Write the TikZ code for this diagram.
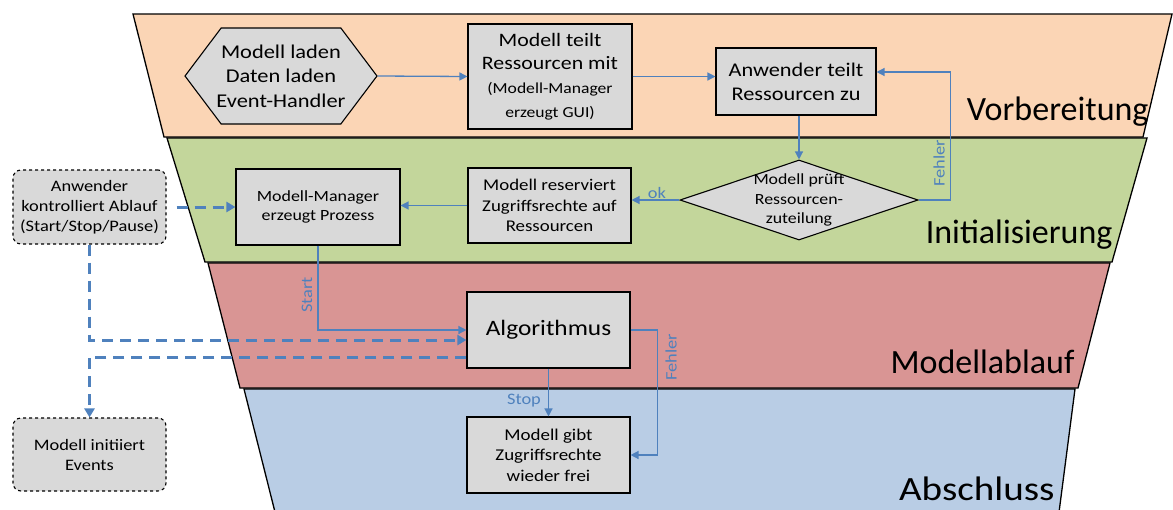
\documentclass[tikz,border=0pt]{standalone}
\usepackage{fontspec}
\setmainfont{Carlito}
\newfontfamily\wide[FakeStretch=1.15]{Carlito}
\usetikzlibrary{shapes.geometric,shapes.symbols,arrows.meta}
\definecolor{vorbcol}{HTML}{FBD5B5}
\definecolor{initcol}{HTML}{C3D69B}
\definecolor{laufcol}{HTML}{D99594}
\definecolor{schlcol}{HTML}{B9CDE5}
\definecolor{flowcol}{HTML}{4F81BD}
\definecolor{boxcol}{HTML}{D9D9D9}
\newcommand{\fs}[1]{\fontsize{#1}{1.25\dimexpr#1pt\relax}\selectfont}
\tikzset{
  band/.style={draw=black,line width=1.3pt},
  phase/.style={anchor=base east,font=\fs{34}},
  proc/.style={draw,fill=boxcol,line width=1.1pt,align=center,inner sep=2pt},
  ext/.style={proc,dashed,rounded corners=8pt},
  flow/.style={draw=flowcol,line width=1.3pt,-{Triangle[length=8pt,width=8pt]}},
  ctrl/.style={draw=flowcol,line width=3pt,dash pattern=on 11pt off 7pt,-{Triangle[length=9pt,width=10pt]}},
  tag/.style={text=flowcol,font=\wide\fs{16},inner sep=1pt}
}
\begin{document}
\begin{tikzpicture}[x=1pt,y=-1pt]
\useasboundingbox (0,0) rectangle (1173,509);
% phases
\filldraw[band,fill=vorbcol] (133,14)--(1172,14)--(1143,137)--(164,137)--cycle;
\filldraw[band,fill=initcol] (167,138)--(1147,138)--(1112,262)--(205,262)--cycle;
\filldraw[band,fill=laufcol] (208,263)--(1110,263)--(1078,388)--(240,388)--cycle;
\filldraw[band,fill=schlcol] (244,389)--(1075,389)--(1058,520)--(277,520)--cycle;
\node[phase] (vorb) at (1152,120) {Vorbereitung};
\node[phase] (init) at (1116,243) {Initialisierung};
\node[phase] (lauf) at (1078,373) {Modellablauf};
\node[phase,font=\wide\fs{34}] (schl) at (1058,500) {Abschluss};
% steps
\node[proc,signal,signal to=east and west,signal pointer angle=106,
  minimum width=192,minimum height=96,inner sep=0pt] (laden) at (281,76) {};
\node[align=center,font=\wide\fs{19.5}] (ladentext) at (laden)
  {Modell laden\\Daten laden\\Event-Handler};
\node[proc,minimum width=164,minimum height=105,font=\wide\fs{19}] (teilt) at (550,76.5)
  {Modell teilt\\Ressourcen mit\\{\fs{15.3}(Modell-Manager}\\{\fs{15.3}erzeugt GUI)}};
\node[proc,minimum width=160,minimum height=67,font=\wide\fs{19.4}] (zu) at (796,81.5)
  {Anwender teilt\\Ressourcen zu};
\node[proc,diamond,minimum width=238,minimum height=80] (pruef) at (799,200) {};
\node[align=center,font=\wide\fs{15.5}] (prueftext) at (pruef) {Modell prüft\\Ressourcen-\\zuteilung};
\node[proc,minimum width=163,minimum height=75,font=\wide\fs{16.4}] (reserv) at (549.5,205.5)
  {Modell reserviert\\Zugriffsrechte auf\\Ressourcen};
\node[proc,minimum width=164,minimum height=76,font=\wide\fs{15.6}] (prozess) at (318,207)
  {Modell-Manager\\erzeugt Prozess};
\node[proc,minimum width=163,minimum height=76,font=\wide\fs{22}] (alg) at (548.5,330)
  {Algorithmus};
\node[proc,minimum width=163,minimum height=76,font=\wide\fs{16.5}] (frei) at (548.5,455)
  {Modell gibt\\Zugriffsrechte\\wieder frei};
\node[ext,minimum width=153,minimum height=74,font=\wide\fs{16}] (anw) at (89.5,207)
  {Anwender\\kontrolliert Ablauf\\(Start/Stop/Pause)};
\node[ext,minimum width=153,minimum height=73,font=\wide\fs{16}] (events) at (89.5,454.5)
  {Modell initiiert\\Events};
% connectors
\draw[flow] (laden.east) -- (teilt.west);
\draw[flow] (teilt.east) -- (teilt.east -| zu.west);
\draw[flow] (pruef.north |- zu.south) -- (pruef.north);
\draw[flow] (pruef.east) -- ++(32,0) |- ([yshift=9.5pt]zu.east);
\draw[flow] (pruef.west) -- (pruef.west -| reserv.east);
\draw[flow] (reserv.west) -- (reserv.west -| prozess.east);
\draw[flow] (prozess.south) |- (alg.west);
\draw[flow] (alg.east) -- ++(27,0) |- (frei.east);
\draw[flow] (alg.south) -- (frei.north);
\draw[ctrl] ([xshift=10pt]anw.east) -- (prozess.west);
\draw[ctrl] (anw.south) |- ([yshift=-10pt]alg.west);
\draw[ctrl] ([yshift=-27pt]alg.west) -| (events.north);
\node[tag] (okay) at (657,193) {ok};
\node[tag,rotate=90] (fehl1) at (939,163) {Fehler};
\node[tag,rotate=90] (start) at (307,295) {Start};
\node[tag,rotate=90] (fehl2) at (671,357) {Fehler};
\node[tag] (stop) at (524,401) {Stop};
\end{tikzpicture}
\end{document}
